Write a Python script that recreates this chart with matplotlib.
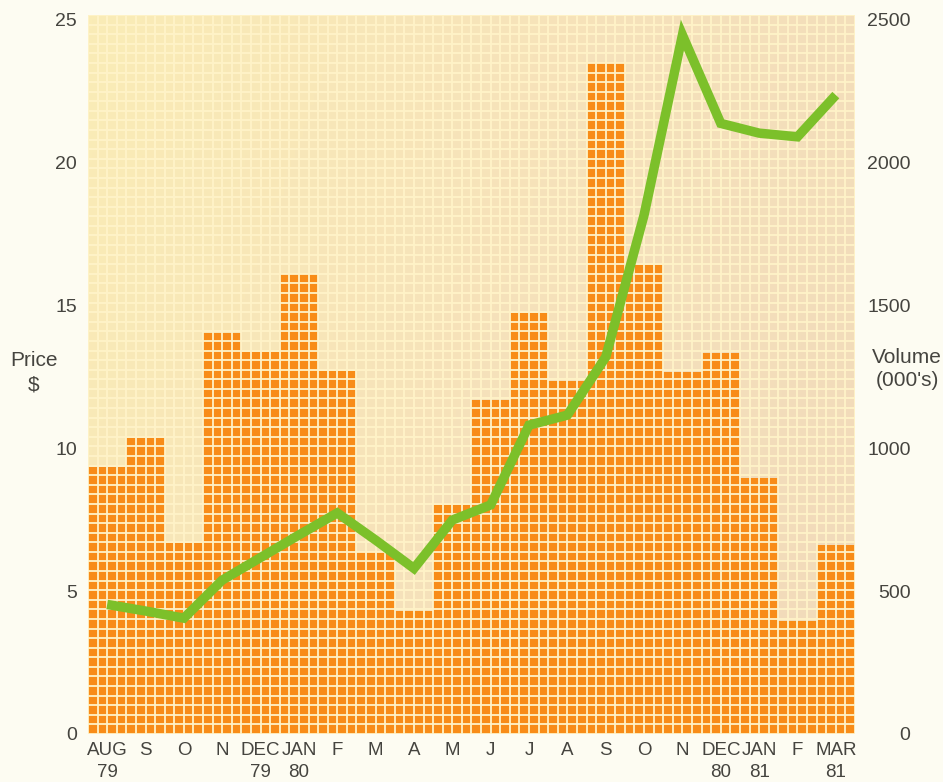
import numpy as np
import matplotlib
matplotlib.use("Agg")
import matplotlib.pyplot as plt
from matplotlib.colors import LinearSegmentedColormap

# ---- data ----
months = ["AUG\n79", "S", "O", "N", "DEC\n79", "JAN\n80", "F", "M", "A", "M",
          "J", "J", "A", "S", "O", "N", "DEC\n80", "JAN\n81", "F", "MAR\n81"]
volume = [935, 1034, 667, 1403, 1337, 1607, 1269, 637, 430, 801,
          1168, 1471, 1234, 2345, 1640, 1267, 1333, 896, 395, 661]
price = [4.53, 4.30, 4.05, 5.38, 6.17, 6.96, 7.73, 6.78, 5.79, 7.48,
         8.01, 10.80, 11.15, 13.18, 18.15, 24.44, 21.35, 21.01, 20.88, 22.34]
price_ticks = [0, 5, 10, 15, 20, 25]
volume_ticks = [0, 500, 1000, 1500, 2000, 2500]

plt.rcParams['font.family'] = ['Liberation Sans', 'DejaVu Sans']
TXT = '#45443f'

fig = plt.figure(figsize=(9.43, 7.82), dpi=100)
fig.patch.set_facecolor('#fdfcf2')

ax2 = fig.add_axes([88/943, 1-734/782, (855-88)/943, (734-15)/782])
ax = ax2.twinx()
ax.set_zorder(ax2.get_zorder() + 1)
ax.patch.set_visible(False)

n = len(months)
x = np.arange(n)
ymax_p = 25.14
ymax_v = ymax_p * 100

# background gradient
gx = np.linspace(0, 1, 200)
gy = np.linspace(0, 1, 200)
GX, GY = np.meshgrid(gx, gy)
grad = np.clip(0.75 * GX + 0.25 * (1 - GY), 0, 1)
cmap = LinearSegmentedColormap.from_list('bg', ['#faecb6', '#f6e2ba', '#f1dabb'])
ax2.imshow(grad, extent=[0, 1, 0, 1], transform=ax2.transAxes, cmap=cmap,
           aspect='auto', origin='lower', zorder=0)

# bars (volume)
ax2.bar(x, volume, width=1.0, color='#f88c18', edgecolor='none', zorder=1)

ax2.set_xlim(-0.5, n - 0.5)
ax2.set_ylim(0, ymax_v)
ax.set_ylim(0, ymax_p)

# cell grid
ncols = n * 4
nrows = 75
for k in range(ncols + 1):
    ax2.axvline(-0.5 + k * 0.25, color='#fff3c8', lw=1.3, zorder=2)
for k in range(nrows + 1):
    ax2.axhline(k * ymax_v / nrows, color='#fff3c8', lw=1.3, zorder=2)

# price line
ax.plot(x, price, color='#7cc02a', lw=6.8, solid_joinstyle='miter',
        solid_capstyle='butt', zorder=5)

for a in (ax, ax2):
    for s in a.spines.values():
        s.set_visible(False)

ax2.yaxis.tick_right()
ax.yaxis.tick_left()

ax.set_yticks(price_ticks)
ax.set_yticklabels([str(t) for t in price_ticks])
ax.tick_params(axis='y', length=0, pad=8, labelsize=14, labelcolor=TXT,
               left=True, right=False, labelleft=True, labelright=False)

ax2.set_yticks(volume_ticks)
ax2.set_yticklabels([str(t) for t in volume_ticks])
ax2.tick_params(axis='y', length=0, pad=40, labelsize=14, labelcolor=TXT,
                left=False, right=True, labelleft=False, labelright=True)
for lbl in ax2.get_yticklabels():
    lbl.set_horizontalalignment('right')

ax2.set_xticks(x)
ax2.set_xticklabels(months, linespacing=1.35)
ax2.tick_params(axis='x', length=0, pad=6, labelsize=13.5, labelcolor=TXT)
ax.tick_params(axis='x', length=0, labelbottom=False)

fig.text(34/943, 1-373/782, "Price\n$", ha='center', va='center',
         fontsize=15, color=TXT, linespacing=1.35)
fig.text(907/943, 1-369/782, "Volume\n(000's)", ha='center', va='center',
         fontsize=15, color=TXT, linespacing=1.3)

fig.savefig("out.png", dpi=100, facecolor=fig.get_facecolor())
